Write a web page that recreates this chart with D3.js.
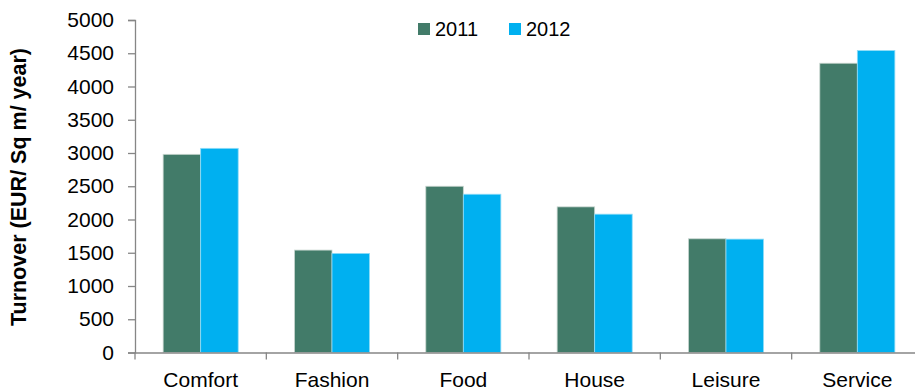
<!DOCTYPE html>
<html>
<head>
<meta charset="utf-8">
<script src="https://cdn.jsdelivr.net/npm/d3@7"></script>
<style>
  body { margin: 0; background: #fff; }
  text { font-family: "Liberation Sans", Arial, sans-serif; fill: #000; }
</style>
</head>
<body>
<svg id="chart" width="915" height="389"></svg>
<script>
// data
var categories = ['Comfort', 'Fashion', 'Food', 'House', 'Leisure', 'Service'];
var seriesNames = ['2011', '2012'];
var values2011 = [2980, 1540, 2500, 2190, 1710, 4350];
var values2012 = [3070, 1490, 2380, 2080, 1705, 4540];
var yTicks = [0, 500, 1000, 1500, 2000, 2500, 3000, 3500, 4000, 4500, 5000];
var colors = ['#427b69', '#00b0f0'];

var svg = d3.select('#chart');
var plotLeft = 135, plotRight = 923, plotTop = 20, plotBottom = 352.5;

var x = d3.scaleBand().domain(categories).range([plotLeft, plotRight]).paddingInner(0).paddingOuter(0);
var x1 = d3.scaleBand().domain(seriesNames).range([0, x.bandwidth()]).paddingInner(0).paddingOuter(0.75);
var y = d3.scaleLinear().domain([0, 5000]).range([plotBottom, plotTop]);

var rows = categories.map(function (c, i) {
    return { cat: c, vals: [values2011[i], values2012[i]] };
});

// bars
var groups = svg.selectAll('g.cat')
    .data(rows)
    .enter()
    .append('g')
    .attr('class', 'cat')
    .attr('transform', function (d) { return 'translate(' + x(d.cat) + ',0)'; });

groups.selectAll('rect')
    .data(function (d) { return d.vals.map(function (v, j) { return { s: seriesNames[j], v: v, j: j }; }); })
    .enter()
    .append('rect')
    .attr('x', function (d) { return x1(d.s); })
    .attr('width', x1.bandwidth())
    .attr('y', function (d) { return y(d.v); })
    .attr('height', function (d) { return plotBottom - y(d.v); })
    .attr('fill', function (d) { return colors[d.j]; })
    .attr('stroke', function (d) { return d.j === 0 ? '#c9d6d0' : '#8fdcf7'; })
    .attr('stroke-width', 0.8);

// y axis
var yAxis = svg.append('g')
    .attr('transform', 'translate(' + plotLeft + ',0)')
    .call(d3.axisLeft(y).tickValues(yTicks).tickSize(7).tickPadding(14).tickFormat(d3.format('d')));
yAxis.select('.domain').attr('stroke', '#868686').attr('stroke-width', 1.3);
yAxis.selectAll('.tick line').attr('stroke', '#868686').attr('stroke-width', 1.3);
yAxis.selectAll('.tick text').style('font-size', '21px').attr('fill', '#000');

// x axis
var xAxis = svg.append('g')
    .attr('transform', 'translate(0,' + plotBottom + ')')
    .call(d3.axisBottom(x).tickSize(0));
xAxis.select('.domain').attr('stroke', '#868686').attr('stroke-width', 1.3);
xAxis.selectAll('.tick text')
    .attr('y', 34)
    .attr('dy', null)
    .style('font-size', '21px')
    .attr('fill', '#000');

// category separator ticks
xAxis.selectAll('line.sep')
    .data(categories)
    .enter()
    .append('line')
    .attr('class', 'sep')
    .attr('x1', function (d) { return x(d); })
    .attr('x2', function (d) { return x(d); })
    .attr('y1', 0)
    .attr('y2', 7)
    .attr('stroke', '#868686')
    .attr('stroke-width', 1.3);

// y title
svg.append('text')
    .attr('transform', 'translate(26,187) rotate(-90)')
    .attr('text-anchor', 'middle')
    .style('font-size', '21.5px')
    .style('font-weight', 'bold')
    .text('Turnover (EUR/ Sq m/ year)');

// legend
var legendX = [418, 509];
var legend = svg.selectAll('g.legend')
    .data(seriesNames)
    .enter()
    .append('g')
    .attr('class', 'legend')
    .attr('transform', function (d, i) { return 'translate(' + legendX[i] + ',23)'; });
legend.append('rect')
    .attr('width', 12)
    .attr('height', 12)
    .attr('fill', function (d, i) { return colors[i]; });
legend.append('text')
    .attr('x', 17)
    .attr('y', 13)
    .style('font-size', '20px')
    .text(function (d) { return d; });
</script>
</body>
</html>
